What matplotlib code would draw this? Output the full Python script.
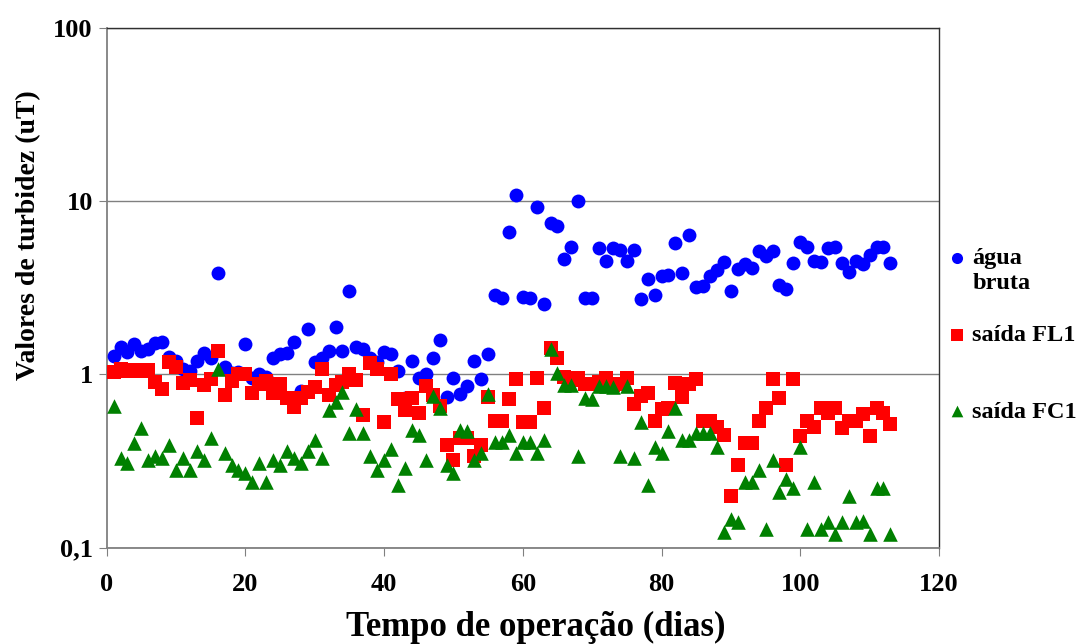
import numpy as np
import matplotlib
matplotlib.use("Agg")
import matplotlib.pyplot as plt
from matplotlib.ticker import FixedLocator, FixedFormatter, NullLocator

# dias de operacao
dias = list(range(1, 114))

agua_bruta = [
    1.28, 1.45, 1.35, 1.49, 1.36, 1.40, 1.51, 1.55, 1.26, 1.20,
    1.07, 1.05, 1.20, 1.33, 1.25, 3.85, 1.10, 1.02, 1.04, 1.50,
    0.96, 1.00, 0.97, 1.25, 1.31, 1.33, 1.55, 0.80, 1.84, 1.18,
    1.24, 1.36, 1.87, 1.36, 3.03, 1.45, 1.41, 1.24, 1.18, 1.35,
    1.32, 1.05, 0.73, 1.19, 0.95, 1.00, 1.25, 1.58, 0.74, 0.96,
    0.77, 0.86, 1.20, 0.94, 1.31, 2.86, 2.75, 6.62, 10.9, 2.80,
    2.75, 9.30, 2.55, 7.46, 7.23, 4.64, 5.47, 10.0, 2.77, 2.77,
    5.35, 4.54, 5.35, 5.23, 4.54, 5.23, 2.74, 3.54, 2.88, 3.72,
    3.75, 5.77, 3.83, 6.39, 3.21, 3.24, 3.72, 4.01, 4.44, 3.05,
    4.05, 4.32, 4.10, 5.16, 4.83, 5.16, 3.28, 3.11, 4.42, 5.84,
    5.47, 4.52, 4.48, 5.35, 5.47, 4.38, 3.92, 4.52, 4.32, 4.90,
    5.47, 5.47, 4.42]

saida_fl1 = [
    1.03, 1.08, 1.05, 1.06, 1.05, 1.06, 0.91, 0.83, 1.18, 1.11,
    0.89, 0.93, 0.56, 0.87, 0.94, 1.36, 0.76, 0.92, 1.01, 1.00,
    0.78, 0.88, 0.92, 0.78, 0.88, 0.73, 0.65, 0.73, 0.79, 0.85,
    1.07, 0.76, 0.87, 0.91, 1.01, 0.93, 0.58, 1.16, 1.07, 0.53,
    1.00, 0.72, 0.62, 0.73, 0.60, 0.86, 0.76, 0.66, 0.39, 0.32,
    0.43, 0.43, 0.34, 0.39, 0.74, 0.54, 0.54, 0.72, 0.94, 0.53,
    0.53, 0.96, 0.64, 1.43, 1.24, 0.97, 0.93, 0.95, 0.88, 0.88,
    0.90, 0.96, 0.87, 0.88, 0.96, 0.68, 0.75, 0.78, 0.54, 0.63,
    0.64, 0.89, 0.74, 0.88, 0.94, 0.54, 0.54, 0.50, 0.45, 0.198,
    0.30, 0.40, 0.40, 0.54, 0.64, 0.94, 0.73, 0.30, 0.94, 0.44,
    0.54, 0.50, 0.64, 0.60, 0.64, 0.49, 0.54, 0.54, 0.59, 0.44,
    0.64, 0.60, 0.52]

saida_fc1 = [
    0.66, 0.33, 0.31, 0.40, 0.49, 0.32, 0.34, 0.33, 0.39, 0.28,
    0.33, 0.28, 0.36, 0.32, 0.43, 1.08, 0.35, 0.30, 0.28, 0.27,
    0.24, 0.31, 0.24, 0.32, 0.30, 0.36, 0.33, 0.31, 0.36, 0.42,
    0.33, 0.62, 0.69, 0.79, 0.46, 0.63, 0.46, 0.34, 0.28, 0.32,
    0.37, 0.23, 0.29, 0.48, 0.45, 0.32, 0.75, 0.64, 0.30, 0.27,
    0.48, 0.47, 0.32, 0.35, 0.77, 0.41, 0.41, 0.45, 0.35, 0.41,
    0.41, 0.35, 0.42, 1.40, 1.02, 0.87, 0.87, 0.34, 0.73, 0.72,
    0.86, 0.86, 0.85, 0.34, 0.86, 0.33, 0.53, 0.23, 0.38, 0.35,
    0.47, 0.64, 0.42, 0.42, 0.46, 0.46, 0.46, 0.38, 0.124, 0.146,
    0.14, 0.24, 0.24, 0.28, 0.128, 0.32, 0.21, 0.25, 0.22, 0.38,
    0.128, 0.24, 0.129, 0.14, 0.12, 0.14, 0.20, 0.14, 0.142, 0.12,
    0.22, 0.22, 0.12]

yticks = [0.1, 1, 10, 100]
ytick_labels = ["0,1", "1", "10", "100"]

plt.rcParams['font.family'] = ['Liberation Serif', 'DejaVu Serif']
plt.rcParams['font.weight'] = 'bold'

fig = plt.figure(figsize=(10.83, 6.44), dpi=100)
ax = fig.add_axes([0.0985, 0.1495, 0.7685, 0.807])

h1 = ax.scatter(dias, agua_bruta, s=100, marker='o', color='#0000ff', lw=0, zorder=3)
h2 = ax.scatter(dias, saida_fl1, s=110, marker='s', color='#ff0000', lw=0, zorder=4)
h3 = ax.scatter(dias, saida_fc1, s=110, marker='^', color='#008000', lw=0, zorder=5)

ax.set_yscale('log')
ax.set_ylim(0.1, 100)
ax.set_xlim(0, 120)
ax.yaxis.set_major_locator(FixedLocator(yticks))
ax.yaxis.set_major_formatter(FixedFormatter(ytick_labels))
ax.yaxis.set_minor_locator(NullLocator())
ax.set_xticks([0, 20, 40, 60, 80, 100, 120])
ax.grid(axis='y', which='major', color='#808080', lw=1)
ax.set_axisbelow(True)

for s in ['left', 'bottom']:
    ax.spines[s].set_color('#808080')
    ax.spines[s].set_linewidth(1.3)
for s in ['top', 'right']:
    ax.spines[s].set_color('#303030')
    ax.spines[s].set_linewidth(1.0)

ax.tick_params(axis='both', direction='out', length=6, color='#808080',
               labelsize=19)
ax.tick_params(axis='y', pad=4)
ax.tick_params(axis='x', pad=12)
for lbl in ax.get_xticklabels() + ax.get_yticklabels():
    lbl.set_fontweight('bold')

ax.set_xlabel('Tempo de operação (dias)', fontsize=25, fontweight='bold')
ax.set_ylabel('Valores de turbidez (uT)', fontsize=20, fontweight='bold')
ax.xaxis.set_label_coords(0.516, -0.122)
ax.yaxis.set_label_coords(-0.079, 0.602)

leg = fig.legend([h1, h2, h3], ['água', 'saída FL1', 'saída FC1'],
                 loc='upper left', bbox_to_anchor=(0.863, 0.631),
                 frameon=False, markerscale=0.8,
                 handletextpad=0.15, labelspacing=2.25, handlelength=1.0,
                 borderaxespad=0, prop={'weight': 'bold', 'size': 17.5})

# segunda linha do rotulo "água bruta"
fig.canvas.draw()
bb = leg.get_texts()[0].get_window_extent()
fig.text(bb.x0 / fig.bbox.width, (bb.y0 - 4) / fig.bbox.height, 'bruta',
         fontsize=17.5, fontweight='bold', va='top', ha='left')

fig.savefig('out.png', dpi=100)
